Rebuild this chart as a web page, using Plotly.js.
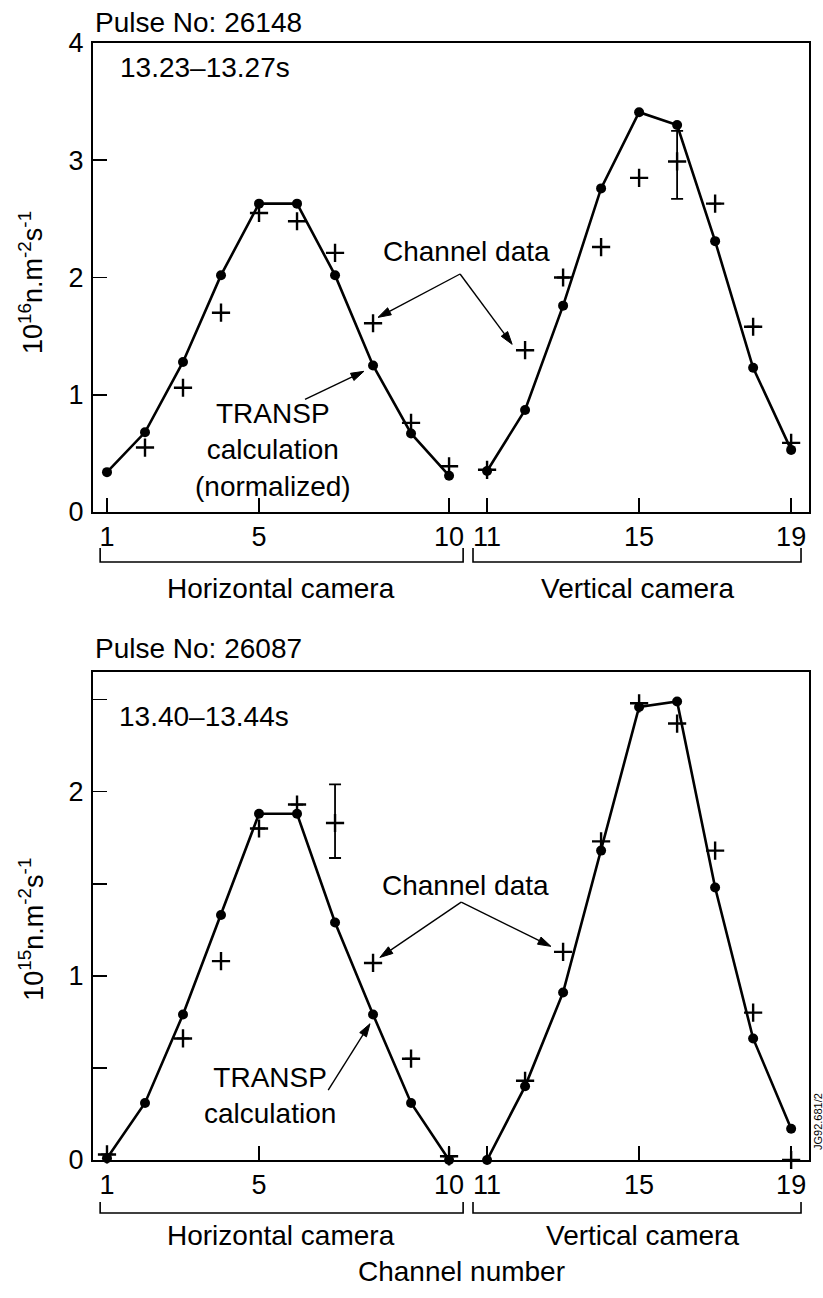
<!DOCTYPE html>
<html><head><meta charset="utf-8">
<script src="https://cdn.plot.ly/plotly-3.0.1.min.js"></script>
<style>html,body{margin:0;padding:0;background:#fff}</style>
</head><body><div id="chart" style="width:823px;height:1298px"></div>
<script>
// ---- categories / ticks ----
const channelsH = [1,2,3,4,5,6,7,8,9,10];
const channelsV = [11,12,13,14,15,16,17,18,19];
const xTickVals = [1,5,10,11,15,19];
const xTickText = ['1','5','10','11','15','19'];
const topYTickVals = [0,1,2,3,4];
const topYTickText = ['0','1','2','3','4'];
const botYTickVals = [0,1,2];
const botYTickText = ['0','1','2'];

// ---- Pulse No: 26148 (10^16 n.m^-2 s^-1) ----
const p1TranspH = [0.34,0.68,1.28,2.02,2.63,2.63,2.02,1.25,0.67,0.31];
const p1TranspV = [0.35,0.87,1.76,2.76,3.41,3.30,2.31,1.23,0.53];
const p1DataH   = [null,0.55,1.06,1.70,2.55,2.48,2.21,1.61,0.76,0.39];
const p1DataV   = [0.36,1.38,2.00,2.26,2.85,2.99,2.63,1.58,0.59];
const p1ErrPlusV  = [null,null,null,null,null,0.26,null,null,null];
const p1ErrMinusV = [null,null,null,null,null,0.32,null,null,null];

// ---- Pulse No: 26087 (10^15 n.m^-2 s^-1) ----
const p2TranspH = [0.01,0.31,0.79,1.33,1.88,1.88,1.29,0.79,0.31,0.00];
const p2TranspV = [0.00,0.40,0.91,1.68,2.46,2.49,1.48,0.66,0.17];
const p2DataH   = [0.03,null,0.66,1.08,1.80,1.93,1.83,1.07,0.55,0.02];
const p2DataV   = [null,0.43,1.13,1.73,2.48,2.37,1.68,0.80,0.00];
const p2ErrPlusH  = [null,null,null,null,null,null,0.21,null,null,null];
const p2ErrMinusH = [null,null,null,null,null,null,0.19,null,null,null];

const FONT = 'Liberation Sans, Arial, Helvetica, sans-serif';
const lineStyle = {color:'#000', width:2.6};
const dotStyle = {symbol:'circle', size:10, color:'#000'};
const crossStyle = {symbol:'cross-thin-open', size:13, color:'#000', line:{color:'#000', width:2.4}};

function transp(x, y, xa, ya){
  return {x:x, y:y, xaxis:xa, yaxis:ya, type:'scatter', mode:'lines+markers',
          line:lineStyle, marker:dotStyle, showlegend:false, cliponaxis:false, hoverinfo:'skip'};
}
function chan(x, y, xa, ya, ep, em){
  const t = {x:x, y:y, xaxis:xa, yaxis:ya, type:'scatter', mode:'markers',
          marker:crossStyle, showlegend:false, cliponaxis:false, hoverinfo:'skip'};
  if (ep) t.error_y = {type:'data', symmetric:false, array:ep, arrayminus:em,
                       color:'#000', thickness:1.8, width:6};
  return t;
}

const data = [
  transp(channelsH, p1TranspH, 'x2', 'y2'),
  transp(channelsV, p1TranspV, 'x2', 'y2'),
  chan(channelsH, p1DataH, 'x2', 'y2'),
  chan(channelsV, p1DataV, 'x2', 'y2', p1ErrPlusV, p1ErrMinusV),
  transp(channelsH, p2TranspH, 'x', 'y'),
  transp(channelsV, p2TranspV, 'x', 'y'),
  chan(channelsH, p2DataH, 'x', 'y', p2ErrPlusH, p2ErrMinusH),
  chan(channelsV, p2DataV, 'x', 'y')
];

const W = 823, H = 1298;
const M = {l:93, r:14, t:43, b:138};
const xRange = [0.632, 19.47];
const topDomain = [0.5801, 1], botDomain = [0, 0.4369];
const topRange = [0, 4], botRange = [0, 2.65];

function xAxis(anchor){
  return {anchor:anchor, range:xRange, showgrid:false, zeroline:false,
    showline:true, linecolor:'#000', linewidth:2, mirror:true,
    ticks:'inside', ticklen:14, tickwidth:1.6, tickcolor:'#000',
    tickvals:xTickVals, ticktext:xTickText,
    tickfont:{family:FONT, size:27, color:'#000'}};
}
function yAxis(anchor, domain, range, tv, tt, minor){
  const a = {anchor:anchor, domain:domain, range:range, showgrid:false, zeroline:false,
    showline:true, linecolor:'#000', linewidth:2, mirror:true,
    ticks:'inside', ticklen:14, tickwidth:1.6, tickcolor:'#000',
    tickvals:tv, ticktext:tt, ticklabelstandoff:2,
    tickfont:{family:FONT, size:27, color:'#000'}};
  if (minor) a.minor = {tickmode:'linear', tick0:0, dtick:0.5, ticks:'inside',
    ticklen:14, tickwidth:1.6, tickcolor:'#000', showgrid:false};
  return a;
}

function ann(text, x, y, xref, yref, size, extra){
  return Object.assign({text:text, x:x, y:y, xref:xref, yref:yref, showarrow:false,
    font:{family:FONT, size:size, color:'#000'}}, extra||{});
}

// pixel scales of the axes (for arrowhead geometry only)
const plotW = W - M.l - M.r, plotH = H - M.t - M.b;
const sx = plotW / (xRange[1] - xRange[0]);
const syTop = (topDomain[1]-topDomain[0]) * plotH / (topRange[1]-topRange[0]);
const syBot = (botDomain[1]-botDomain[0]) * plotH / (botRange[1]-botRange[0]);

// arrow drawn as shapes: tail (x0,y0) -> head (x1,y1)
function arrowShapes(x0, y0, x1, y1, xref, yref, sy){
  const dx = (x1-x0)*sx, dy = (y1-y0)*sy;
  const L = Math.hypot(dx, dy), ux = dx/L, uy = dy/L;
  const hl = 13, hw = 4;
  const bx = x1 - ux*hl/sx, by = y1 - uy*hl/sy;
  const nx = -uy, ny = ux;
  const p1x = bx + nx*hw/sx, p1y = by + ny*hw/sy;
  const p2x = bx - nx*hw/sx, p2y = by - ny*hw/sy;
  return [
    {type:'line', xref:xref, yref:yref, x0:x0, y0:y0, x1:bx, y1:by, line:{color:'#000', width:1.4}},
    {type:'path', xref:xref, yref:yref, fillcolor:'#000', line:{color:'#000', width:1},
     path:'M '+x1+','+y1+' L '+p1x+','+p1y+' L '+p2x+','+p2y+' Z'}
  ];
}

const annotations = [
  // top panel
  ann('Pulse No: 26148', 0, 1.0188, 'paper', 'paper', 28, {xanchor:'left', yanchor:'middle'}),
  ann('13.23–13.27s', 1.29, 3.79, 'x2', 'y2', 28, {xanchor:'left', yanchor:'middle'}),
  ann('Channel data', 10.45, 2.22, 'x2', 'y2', 28, {xanchor:'center', yanchor:'middle'}),
  ann('TRANSP<br>calculation<br>(normalized)', 5.37, 0.53, 'x2', 'y2', 28, {xanchor:'center', yanchor:'middle'}),
  ann('10<sup>16</sup>n.m<sup>-2</sup>s<sup>-1</sup>', -0.0866, 0.786, 'paper', 'paper', 27, {textangle:-90, xanchor:'center', yanchor:'middle'}),
  ann('Horizontal camera', 5.58, 0.5120, 'x2', 'paper', 28, {xanchor:'center', yanchor:'middle'}),
  ann('Vertical camera', 14.95, 0.5120, 'x2', 'paper', 28, {xanchor:'center', yanchor:'middle'}),
  // bottom panel
  ann('Pulse No: 26087', 0, 0.458, 'paper', 'paper', 28, {xanchor:'left', yanchor:'middle'}),
  ann('13.40–13.44s', 1.26, 2.41, 'x', 'y', 28, {xanchor:'left', yanchor:'middle'}),
  ann('Channel data', 10.42, 1.49, 'x', 'y', 28, {xanchor:'center', yanchor:'middle'}),
  ann('TRANSP<br>calculation', 5.3, 0.35, 'x', 'y', 28, {xanchor:'center', yanchor:'middle'}),
  ann('10<sup>15</sup>n.m<sup>-2</sup>s<sup>-1</sup>', -0.0866, 0.207, 'paper', 'paper', 27, {textangle:-90, xanchor:'center', yanchor:'middle'}),
  ann('Horizontal camera', 5.58, -0.0680, 'x', 'paper', 28, {xanchor:'center', yanchor:'middle'}),
  ann('Vertical camera', 15.1, -0.0680, 'x', 'paper', 28, {xanchor:'center', yanchor:'middle'}),
  ann('Channel number', 0.514, -0.0995, 'paper', 'paper', 28, {xanchor:'center', yanchor:'middle'}),
  ann('JG92.681/2', 1.0126, 0.034, 'paper', 'paper', 11, {textangle:-90, xanchor:'center', yanchor:'middle'})
];

function bracket(x0, x1, xref, yLow, yHigh){
  return {type:'path', xref:xref, yref:'paper',
    path:'M '+x0+','+yHigh+' L '+x0+','+yLow+' L '+x1+','+yLow+' L '+x1+','+yHigh,
    line:{color:'#000', width:1.6}};
}
const shapes = [
  bracket(0.82, 10.37, 'x2', 0.5354, 0.5479),
  bracket(10.63, 19.26, 'x2', 0.5354, 0.5479),
  bracket(0.82, 10.37, 'x', -0.0474, -0.0376),
  bracket(10.63, 19.26, 'x', -0.0474, -0.0376)
].concat(
  arrowShapes(10.29, 2.03, 8.13, 1.66, 'x2', 'y2', syTop),
  arrowShapes(10.29, 2.03, 11.66, 1.43, 'x2', 'y2', syTop),
  arrowShapes(6.21, 0.96, 7.76, 1.20, 'x2', 'y2', syTop),
  arrowShapes(10.32, 1.40, 8.18, 1.10, 'x', 'y', syBot),
  arrowShapes(10.32, 1.40, 12.68, 1.16, 'x', 'y', syBot),
  arrowShapes(6.82, 0.38, 7.92, 0.74, 'x', 'y', syBot)
);

const layout = {
  width:W, height:H,
  margin:M,
  paper_bgcolor:'#fff', plot_bgcolor:'#fff',
  showlegend:false,
  font:{family:FONT, color:'#000'},
  xaxis: xAxis('y'),
  yaxis: yAxis('x', botDomain, botRange, botYTickVals, botYTickText, true),
  xaxis2: xAxis('y2'),
  yaxis2: yAxis('x2', topDomain, topRange, topYTickVals, topYTickText, false),
  annotations:annotations,
  shapes:shapes
};

Plotly.newPlot('chart', data, layout, {staticPlot:true, displayModeBar:false}).then(function(gd){
  // drop empty placeholder text nodes (unused axis/plot titles)
  gd.querySelectorAll('text').forEach(function(t){
    if (!t.textContent || !t.textContent.trim()) t.parentNode.removeChild(t);
  });
});
</script>
</body></html>
